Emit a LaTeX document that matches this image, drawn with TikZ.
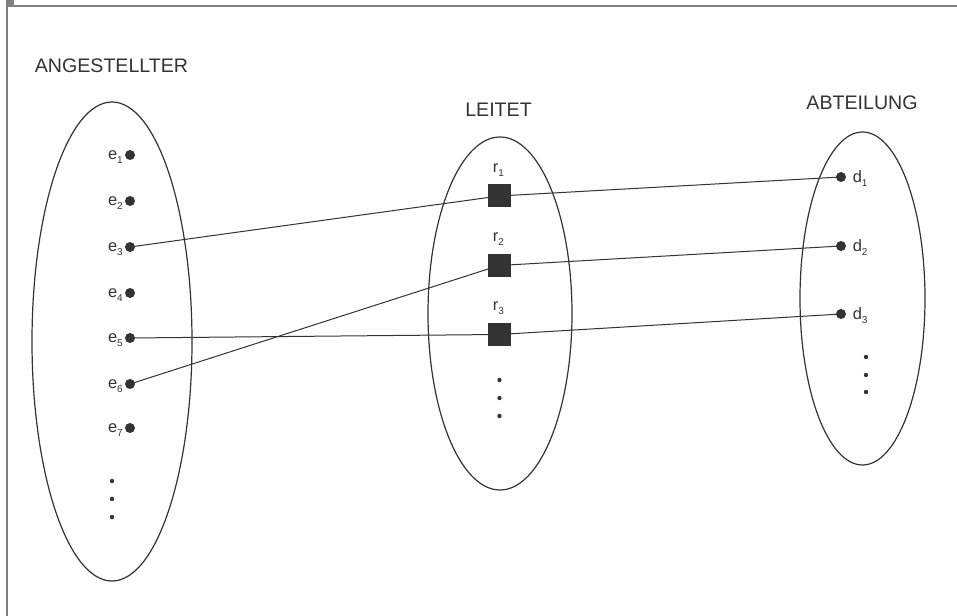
\documentclass[tikz,border=0pt]{standalone}
\usepackage{fontspec}
\setmainfont{Liberation Sans}
\definecolor{ink}{HTML}{333333}
\definecolor{framegray}{HTML}{808080}
% letter with a lowered index
\newcommand{\idx}[2]{#1\raisebox{-3pt}{\fontsize{7.5}{9}\selectfont #2}}
\begin{document}
\begin{tikzpicture}[x=0.75pt,y=-0.75pt,
  setline/.style={draw=ink, line width=0.9pt},
  link/.style={draw=ink, line width=0.75pt},
  entity/.style={circle, fill=ink, inner sep=0pt, minimum size=7.5pt},
  relship/.style={rectangle, fill=ink, inner sep=0pt, minimum size=17.25pt},
  title/.style={text=ink, font=\fontsize{14.7}{17}\selectfont, inner sep=0pt},
  elabel/.style={text=ink, font=\fontsize{12.3}{14}\selectfont, inner sep=0pt}
]
\useasboundingbox (0,0) rectangle (957,616);

% frame corner
\fill[framegray] (6,0) rectangle (14,7);
\draw[framegray, line width=1.5pt] (6.5,616) -- (6.5,6.5) -- (957,6.5);

% set outlines
\draw[setline] (112,341.5) ellipse (80 and 239.5);
\draw[setline] (500,313.5) ellipse (72 and 176.5);
\draw[setline] (862.5,298.5) ellipse (62.5 and 166.5);

% titles
\node[title] (tA) at (111.5,65.5) {ANGESTELLTER};
\node[title] (tL) at (498.5,109.5) {LEITET};
\node[title] (tD) at (862,102.5) {ABTEILUNG};

% employees
\foreach \i/\y in {1/155,2/201,3/247,4/293,5/338,6/384,7/428}{
  \node[entity] (e\i) at (130,\y) {};
  \node[elabel, anchor=base east] at (123,\y+4.3) {\idx{e}{\i}};
}
\foreach \y in {481,499,517} \fill[ink] (112,\y) circle (2.2);

% relationship instances
\foreach \i/\y in {1/196,2/265.5,3/334.5}{
  \node[relship] (r\i) at (499,\y) {};
  \node[elabel, anchor=base] at (498.5,\y-23.5) {\idx{r}{\i}};
}
\foreach \y in {380,398,416} \fill[ink] (499.5,\y) circle (2.2);

% departments
\foreach \i/\y in {1/177,2/246,3/314}{
  \node[entity] (d\i) at (841,\y) {};
  \node[elabel, anchor=base west] at (852.5,\y+5.5) {\idx{d}{\i}};
}
\foreach \y in {357,375,392} \fill[ink] (866,\y) circle (2.2);

% connectors
\draw[link] (e3.center) -- (r1.center) -- (d1.center);
\draw[link] (e6.center) -- (r2.center) -- (d2.center);
\draw[link] (e5.center) -- (r3.center) -- (d3.center);
\end{tikzpicture}
\end{document}
